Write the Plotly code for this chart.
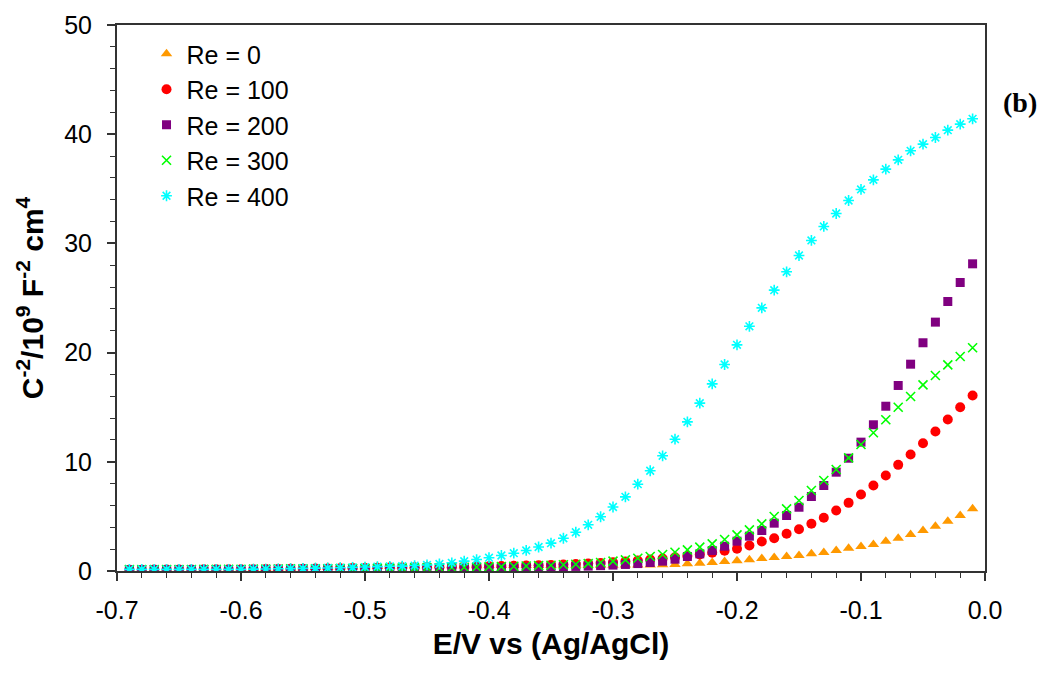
import plotly.graph_objects as go

# ---------------- data ----------------
E = [round(-0.69 + 0.01 * i, 2) for i in range(69)]

re0 = [0.15, 0.15, 0.16, 0.16, 0.17, 0.17, 0.18, 0.19, 0.20, 0.21, 0.22, 0.24, 0.26, 0.28,
       0.30, 0.32, 0.34, 0.36, 0.38, 0.40,
       0.42, 0.44, 0.45, 0.46, 0.47, 0.48, 0.48, 0.49, 0.49, 0.50, 0.50, 0.50, 0.51, 0.51,
       0.51, 0.52, 0.52, 0.52, 0.53, 0.53, 0.54, 0.55, 0.56, 0.58,
       0.60, 0.66, 0.72, 0.78, 0.87, 0.95, 1.02, 1.14, 1.24, 1.33, 1.42, 1.57, 1.69, 1.88,
       2.09, 2.24, 2.43, 2.73, 3.00, 3.34, 3.71, 4.10, 4.56, 5.08, 5.70]

re100 = [0.12, 0.12, 0.13, 0.13, 0.14, 0.14, 0.15, 0.15, 0.16, 0.16, 0.17, 0.18, 0.19, 0.20,
         0.21, 0.22, 0.24, 0.25, 0.27, 0.28,
         0.30, 0.31, 0.32, 0.33, 0.34, 0.36, 0.38, 0.40, 0.42, 0.44, 0.46, 0.48, 0.50, 0.53,
         0.56, 0.59, 0.63, 0.68,
         0.74, 0.80, 0.88, 0.96, 1.05, 1.15, 1.26, 1.38, 1.52,
         1.67, 1.85, 2.03, 2.34, 2.70, 3.00, 3.41, 3.83, 4.32, 4.87, 5.54, 6.24, 7.00, 7.83,
         8.74, 9.72, 10.67, 11.70, 12.77, 13.87, 15.00, 16.07]

re200 = [0.10, 0.10, 0.11, 0.11, 0.12, 0.12, 0.13, 0.13, 0.14, 0.14, 0.15, 0.15, 0.16, 0.16,
         0.17, 0.17, 0.18, 0.19, 0.20, 0.21,
         0.22, 0.23, 0.24, 0.25, 0.26, 0.27, 0.28, 0.29, 0.30, 0.31, 0.32, 0.33, 0.34, 0.36,
         0.38, 0.40, 0.42, 0.45,
         0.49, 0.54, 0.60, 0.68, 0.78, 0.90, 1.08, 1.33, 1.57, 1.88, 2.27, 2.73, 3.19, 3.71,
         4.38, 5.08, 5.84, 6.82, 7.83, 9.05, 10.33, 11.80, 13.39, 15.09, 16.99, 18.94, 20.90,
         22.79, 24.68, 26.42, 28.13]

re300 = [0.12, 0.12, 0.13, 0.13, 0.14, 0.14, 0.15, 0.15, 0.16, 0.16, 0.17, 0.17, 0.18, 0.19,
         0.19, 0.20, 0.21, 0.22, 0.23, 0.24,
         0.25, 0.26, 0.27, 0.28, 0.29, 0.30, 0.32, 0.34, 0.36, 0.38, 0.40, 0.43, 0.46, 0.49,
         0.53, 0.57, 0.62, 0.68,
         0.78, 0.90, 1.02, 1.17, 1.33, 1.51, 1.72, 1.94, 2.18, 2.49, 2.88, 3.31, 3.77, 4.32,
         4.99, 5.69, 6.46, 7.37, 8.29, 9.29, 10.36, 11.58, 12.66, 13.85, 15.00, 15.98, 17.05,
         17.90, 18.88, 19.64, 20.44]

re400 = [0.15, 0.15, 0.15, 0.15, 0.15, 0.15, 0.15, 0.15, 0.15, 0.15, 0.17, 0.18, 0.20, 0.22,
         0.24, 0.26, 0.28, 0.30, 0.33, 0.36,
         0.40, 0.43, 0.45, 0.50, 0.55, 0.64, 0.75, 0.90, 1.05, 1.22, 1.42, 1.63, 1.88, 2.20,
         2.55, 3.00, 3.55, 4.23, 4.97, 5.86, 6.79, 7.95, 9.18, 10.55, 12.07, 13.66, 15.37,
         17.14, 18.91, 20.71, 22.41, 24.10, 25.72, 27.40, 28.89, 30.27, 31.55, 32.74, 33.93,
         34.94, 35.82, 36.80, 37.65, 38.48, 39.09, 39.70, 40.37, 40.92, 41.41]

series_names = ["Re = 0", "Re = 100", "Re = 200", "Re = 300", "Re = 400"]

x_tickvals = [-0.7, -0.6, -0.5, -0.4, -0.3, -0.2, -0.1, 0.0]
x_ticktext = ["-0.7", "-0.6", "-0.5", "-0.4", "-0.3", "-0.2", "-0.1", "0.0"]
y_tickvals = [0, 10, 20, 30, 40, 50]

# ---------------- styles ----------------
styles = [
    dict(symbol="triangle-up", size=10, color="#FF9900", line=dict(width=0)),
    dict(symbol="circle", size=10, color="#FF0000", line=dict(width=0)),
    dict(symbol="square", size=9, color="#800080", line=dict(width=0)),
    dict(symbol="x-thin", size=9, color="#00FF00", line=dict(width=1.6, color="#00FF00")),
    dict(symbol="asterisk", size=9, color="#00FFFF", line=dict(width=1.6, color="#00FFFF")),
]

fig = go.Figure()
for name, ys, st in zip(series_names, [re0, re100, re200, re300, re400], styles):
    fig.add_trace(go.Scatter(x=E, y=ys, mode="markers", name=name, marker=st))

FONT = "Arial, 'Liberation Sans', sans-serif"

fig.update_layout(
    width=1048, height=673,
    margin=dict(l=117, r=63, t=25, b=102, autoexpand=False),
    paper_bgcolor="white", plot_bgcolor="white",
    font=dict(family=FONT, color="black", size=25),
    showlegend=True,
    legend=dict(x=0.034, y=0.989, xanchor="left", yanchor="top",
                font=dict(family=FONT, size=25, color="black"),
                bgcolor="rgba(0,0,0,0)", tracegroupgap=0),
    annotations=[dict(text="<b>(b)</b>", xref="paper", yref="paper",
                      x=1.04, y=0.858, xanchor="center", yanchor="middle",
                      showarrow=False,
                      font=dict(family="'Times New Roman', 'Liberation Serif', serif",
                                size=28, color="black"))],
)

fig.update_xaxes(
    range=[-0.7, 0.0], tickvals=x_tickvals, ticktext=x_ticktext,
    showgrid=False, zeroline=False,
    showline=True, linecolor="#333333", linewidth=2, mirror=True,
    ticks="outside", ticklen=8, tickwidth=1.5, tickcolor="#333333",
    minor=dict(dtick=0.02, ticks="outside", ticklen=5, tickwidth=1.2, tickcolor="#333333", showgrid=False),
    tickfont=dict(family=FONT, size=25, color="black"),
    ticklabelstandoff=8,
    title=dict(text="<b>E/V vs (Ag/AgCl)</b>", font=dict(family=FONT, size=30, color="black"), standoff=10),
)

fig.update_yaxes(
    range=[0, 50], tickvals=y_tickvals,
    showgrid=False, zeroline=False,
    showline=True, linecolor="#333333", linewidth=2, mirror=True,
    ticks="outside", ticklen=8, tickwidth=1.5, tickcolor="#333333",
    minor=dict(dtick=2, ticks="outside", ticklen=5, tickwidth=1.2, tickcolor="#333333", showgrid=False),
    tickfont=dict(family=FONT, size=25, color="black"),
    ticklabelstandoff=10,
    title=dict(text="<b>C<sup>-2</sup>/10<sup>9</sup> F<sup>-2</sup> cm<sup>4</sup></b>",
               font=dict(family=FONT, size=30, color="black"), standoff=12),
)

fig.write_html("out.html")
